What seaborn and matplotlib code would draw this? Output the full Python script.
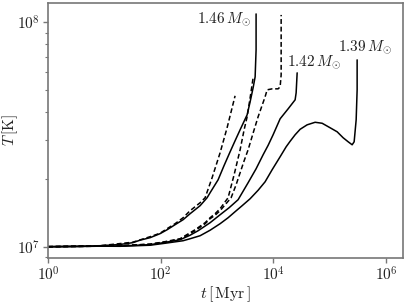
import matplotlib
matplotlib.use("Agg")
import matplotlib.pyplot as plt
import matplotlib.ticker as mticker
import seaborn as sns
import pandas as pd

# Core temperature tracks, t in Myr, T in K

# 1.46 Msun, solid
t_s146 = [1, 3.7, 8.4, 19, 32, 43, 65, 97.5, 130, 180, 250, 333, 501, 667, 754, 1047, 1330,
          1710, 2094, 2572, 3428, 3873, 4375, 4753, 4943, 4943]
T_s146 = [1.000e7, 1.003e7, 1.010e7, 1.023e7, 1.042e7, 1.069e7, 1.097e7, 1.143e7, 1.190e7,
          1.253e7, 1.319e7, 1.403e7, 1.523e7, 1.653e7, 1.740e7, 1.988e7, 2.295e7, 2.650e7,
          2.967e7, 3.321e7, 3.873e7, 4.424e7, 5.108e7, 5.718e7, 7.543e7, 1.091e8]

# dashed companion tracks
t_d1 = [1, 8.4, 32, 65, 97.5, 130, 180, 250, 333, 501, 615, 818, 1135, 1510, 1854, 2094]
T_d1 = [1.000e7, 1.010e7, 1.047e7, 1.108e7, 1.148e7, 1.203e7, 1.266e7, 1.346e7, 1.447e7,
        1.570e7, 1.653e7, 2.029e7, 2.623e7, 3.390e7, 4.162e7, 4.707e7]

t_d2 = [1, 8.4, 19, 65, 120, 221, 333, 408, 615, 754, 925, 1135, 1574, 2013, 2572, 3030,
        3428, 3873, 4375]
T_d2 = [1.000e7, 1.005e7, 1.010e7, 1.026e7, 1.053e7, 1.085e7, 1.154e7, 1.190e7, 1.279e7,
        1.346e7, 1.403e7, 1.477e7, 1.653e7, 2.093e7, 2.704e7, 3.321e7, 3.795e7, 4.610e7,
        5.659e7]

t_d3 = [1, 8.4, 19, 65, 120, 221, 333, 408, 615, 754, 925, 1135, 1780, 2183, 2572, 3030,
        3565, 4560, 5370, 7145, 7762, 9520, 12160, 13210, 13770, 13770]
T_d3 = [1.000e7, 1.005e7, 1.010e7, 1.026e7, 1.049e7, 1.080e7, 1.143e7, 1.178e7, 1.266e7,
        1.333e7, 1.381e7, 1.447e7, 1.653e7, 1.888e7, 2.136e7, 2.415e7, 2.704e7, 3.321e7,
        3.795e7, 4.659e7, 5.005e7, 5.056e7, 5.056e7, 5.160e7, 5.837e7, 1.080e8]

# 1.42 Msun, solid
t_s142 = [1, 8.4, 19, 65, 120, 221, 333, 462, 754, 1135, 1641, 2371, 3565, 4943, 6590, 8091,
          9910, 13210, 18330, 24380, 25410, 26490]
T_s142 = [1.000e7, 1.005e7, 1.007e7, 1.021e7, 1.045e7, 1.074e7, 1.125e7, 1.178e7, 1.279e7,
          1.388e7, 1.492e7, 1.620e7, 1.928e7, 2.225e7, 2.570e7, 2.832e7, 3.155e7, 3.718e7,
          4.119e7, 4.517e7, 4.853e7, 5.958e7]

# 1.39 Msun, solid
t_s139 = [1, 8.4, 19, 65, 120, 250, 333, 501, 754, 1135, 1574, 2094, 2793, 3873, 5370, 7145,
          9520, 13210, 16900, 19870, 24380, 29920, 39800, 55200, 73600, 102000, 135900,
          173800, 213100, 251000, 272300, 295600, 307600, 307600]
T_s139 = [1.000e7, 1.005e7, 1.004e7, 1.015e7, 1.036e7, 1.063e7, 1.085e7, 1.119e7, 1.184e7,
          1.266e7, 1.346e7, 1.432e7, 1.523e7, 1.636e7, 1.785e7, 1.947e7, 2.203e7, 2.518e7,
          2.789e7, 2.951e7, 3.155e7, 3.338e7, 3.494e7, 3.587e7, 3.551e7, 3.390e7, 3.253e7,
          3.059e7, 2.936e7, 2.847e7, 2.936e7, 3.680e7, 5.005e7, 6.808e7]

tracks = [
    ("s146", "solid", t_s146, T_s146),
    ("d1", "dashed", t_d1, T_d1),
    ("d2", "dashed", t_d2, T_d2),
    ("d3", "dashed", t_d3, T_d3),
    ("s142", "solid", t_s142, T_s142),
    ("s139", "solid", t_s139, T_s139),
]

labels = ["$1.46\\,M_{\\odot}$", "$1.42\\,M_{\\odot}$", "$1.39\\,M_{\\odot}$"]
label_t = [4000, 17600, 141000]
label_T = [1.03e8, 6.67e7, 7.78e7]
label_ha = ["right", "left", "left"]

rows = []
for name, kind, ts, Ts in tracks:
    for i, (t, T) in enumerate(zip(ts, Ts)):
        rows.append({"track": name, "kind": kind, "order": i, "t": t, "T": T})
df = pd.DataFrame(rows)

sns.set_theme(style="ticks")
plt.rcParams["font.family"] = "serif"
plt.rcParams["font.serif"] = ["cmr10", "DejaVu Serif"]
plt.rcParams["mathtext.fontset"] = "cm"
plt.rcParams["axes.formatter.use_mathtext"] = True

fig = plt.figure(figsize=(4.07, 3.05), dpi=100)
ax = fig.add_axes([0.118, 0.154, 0.872, 0.836])

sns.lineplot(data=df, x="t", y="T", units="track", estimator=None, sort=False,
             style="kind", dashes={"solid": "", "dashed": (3.2, 1.8)},
             color="black", linewidth=1.1, legend=False, ax=ax)

ax.set_xscale("log")
ax.set_yscale("log")
ax.set_xlim(1, 2.0e6)
ax.set_ylim(8.9e6, 1.22e8)

ax.xaxis.set_major_locator(mticker.FixedLocator([1, 1e2, 1e4, 1e6]))
ax.xaxis.set_minor_locator(mticker.NullLocator())
ax.yaxis.set_major_locator(mticker.FixedLocator([1e7, 1e8]))
ax.yaxis.set_minor_locator(mticker.LogLocator(base=10, subs=range(2, 10)))
ax.yaxis.set_minor_formatter(mticker.NullFormatter())

for lab, t, T, ha in zip(labels, label_t, label_T, label_ha):
    ax.text(t, T, lab, ha=ha, va="center", fontsize=11, color="#222222")

ax.set_xlabel("$t\\,[\\,\\mathrm{Myr}\\,]$", fontsize=11.5, color="#222222", labelpad=0)
ax.set_ylabel("$T\\,[\\mathrm{K}]$", fontsize=11, color="#222222", labelpad=0)
ax.yaxis.set_label_coords(-0.078, 0.5)

for sp in ax.spines.values():
    sp.set_visible(True)
    sp.set_color("#777777")
    sp.set_linewidth(1.2)
ax.tick_params(which="both", direction="out", color="#777777", labelcolor="#222222",
               labelsize=11, pad=2)
ax.tick_params(which="major", length=3.5, width=1.0)
ax.tick_params(which="minor", length=2.0, width=0.8)

fig.savefig("out.png", dpi=100)
